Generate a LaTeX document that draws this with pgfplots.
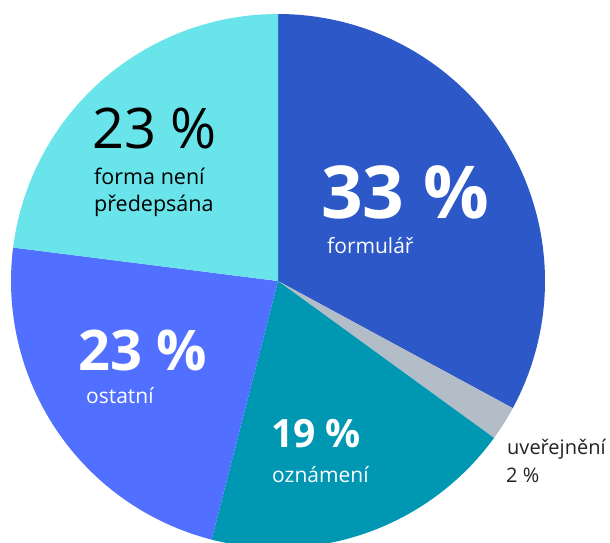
\documentclass[border=0pt]{standalone}
\usepackage{pgfplots}
\pgfplotsset{compat=1.18}
\usepackage{fontspec}
\setmainfont{Open Sans}
\definecolor{cForm}{HTML}{2D58C8}
\definecolor{cUver}{HTML}{B3BDC7}
\definecolor{cOzn}{HTML}{0097B2}
\definecolor{cOst}{HTML}{5270FF}
\definecolor{cForma}{HTML}{68E4EA}
\definecolor{cTxt}{HTML}{222222}
% pie centre (px) and radius
\def\cx{278}\def\cy{261}\def\rr{267}
% \slice{start angle}{percent}{colour}
\newcommand{\slice}[3]{%
  \pgfmathsetmacro{\sa}{#1}%
  \pgfmathsetmacro{\ea}{#1-#2*3.6}%
  \addplot[fill=#3, draw=none, domain=\ea:\sa, samples=150]
    ({\cx+\rr*cos(x)},{\cy+\rr*sin(x)}) -- (axis cs:\cx,\cy) -- cycle;
}
\begin{document}
\begin{tikzpicture}
\useasboundingbox (0,0) rectangle (610pt,542pt);
\begin{axis}[
  scale only axis, width=610pt, height=542pt,
  xmin=0, xmax=610, ymin=0, ymax=542,
  hide axis, clip=true,
]
% data: formulář 32.9, uveřejnění 2.1, oznámení 19.0, ostatní 23.0, forma není předepsána 23.0
\slice{90}{32.9}{cForm}
\slice{-28.44}{2.1}{cUver}
\slice{-36.0}{19.0}{cOzn}
\slice{-104.4}{23.0}{cOst}
\slice{-187.2}{23.0}{cForma}

\node[anchor=base west, inner sep=0, text=black, font=\fontsize{56}{56}\selectfont] at (axis cs:92,394) {23 \%};
\node[anchor=base west, inner sep=0, text=black, font=\fontsize{21.5}{22}\selectfont] at (axis cs:94,358) {forma není};
\node[anchor=base west, inner sep=0, text=black, font=\fontsize{21.5}{22}\selectfont] at (axis cs:94,331) {předepsána};

\node[anchor=base west, inner sep=0, text=white, font=\fontsize{73}{73}\bfseries\selectfont] at (axis cs:321,324) {33 \%};
\node[anchor=base west, inner sep=0, text=white, font=\fontsize{21}{22}\selectfont] at (axis cs:327,289) {formulář};

\node[anchor=base west, inner sep=0, text=white, font=\fontsize{56}{56}\bfseries\selectfont] at (axis cs:78,172) {23 \%};
\node[anchor=base west, inner sep=0, text=white, font=\fontsize{21}{22}\selectfont] at (axis cs:86,139) {ostatní};

\node[anchor=base west, inner sep=0, text=white, font=\fontsize{39}{39}\bfseries\selectfont] at (axis cs:271,95) {19 \%};
\node[anchor=base west, inner sep=0, text=white, font=\fontsize{21}{22}\selectfont] at (axis cs:272,60) {oznámení};

\node[anchor=base west, inner sep=0, text=cTxt, font=\fontsize{20}{22}\selectfont] at (axis cs:507,88) {uveřejnění};
\node[anchor=base west, inner sep=0, text=cTxt, font=\fontsize{20}{22}\selectfont] at (axis cs:506,60) {2 \%};
\end{axis}
\end{tikzpicture}
\end{document}
